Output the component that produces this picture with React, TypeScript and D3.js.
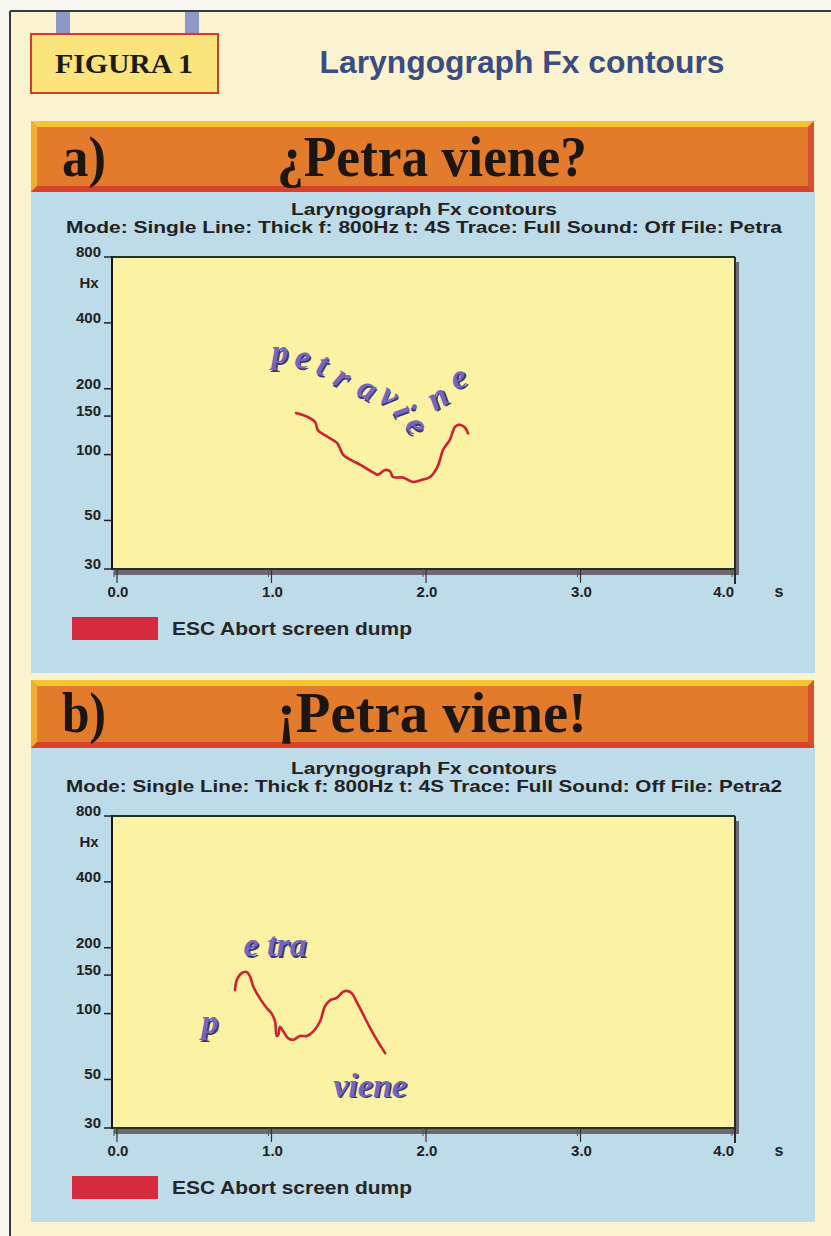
import React from 'react';
import * as d3 from 'd3';

// chart values
const yTicks = [800, 400, 200, 150, 100, 50, 30];
const xTicks = [0, 1, 2, 3, 4];
const xTickLabels = ['0.0', '1.0', '2.0', '3.0', '4.0'];

// a) ¿Petra viene?  time (s) / Fx (Hz)
const timeA = [1.159, 1.23, 1.282, 1.301, 1.359, 1.424, 1.463, 1.508, 1.573, 1.657, 1.689, 1.735, 1.767, 1.786, 1.851, 1.916, 1.981, 2.026, 2.071, 2.091, 2.11, 2.155, 2.188, 2.22, 2.252, 2.272];
const hzA = [155, 149, 141, 129, 121, 113, 100, 95, 90, 83, 81, 85, 84, 79, 78.5, 75, 77, 79, 87, 95, 105, 117, 134, 137, 133, 125];

// b) ¡Petra viene!
const timeB = [0.764, 0.775, 0.807, 0.839, 0.861, 0.882, 0.926, 0.969, 1.001, 1.023, 1.034, 1.044, 1.055, 1.076, 1.109, 1.141, 1.184, 1.228, 1.271, 1.314, 1.346, 1.379, 1.422, 1.465, 1.487, 1.519, 1.551, 1.594, 1.638, 1.681, 1.735];
const hzB = [128, 142, 153, 155, 148, 133, 117, 106, 100, 92, 79, 80, 87, 83, 77, 76, 79, 79, 83, 92, 108, 115, 118, 126, 127, 124, 113, 99, 86, 76, 66];

// syllable letters written over the traces
const notesA = ['p', 'e', 't', 'r', 'a', 'v', 'i', 'e', 'n', 'e'];
const notesATime = [1.055, 1.204, 1.333, 1.463, 1.625, 1.767, 1.864, 1.948, 2.071, 2.207];
const notesAHz = [295, 280, 260, 227, 202, 188, 160, 137, 184, 227];
const notesATilt = [0, 10, 20, 30, 28, 35, 60, 55, -30, -20];

const notesB = ['e tra', 'p', 'viene'];
const notesBTime = [1.023, 0.602, 1.638];
const notesBHz = [206, 92, 47];
const notesBTilt = [0, 0, 0];

const W = 831;
const H = 1236;
const plotLeft = 112;
const plotRight = 735;
const plotH = 312;

const sans = 'Liberation Sans, Arial, sans-serif';
const serif = 'Liberation Serif, Times New Roman, serif';

function Band({top, bottom, tag, title}) {
  const l = 31, r = 814, b = 6;
  return (
    <g>
      <rect x={l} y={top} width={r - l} height={bottom - top} fill="#e27b2c" />
      <polygon points={`${l},${top} ${r},${top} ${r - b},${top + b} ${l + b},${top + b}`} fill="#f6c331" />
      <polygon points={`${l},${top} ${l + b},${top + b} ${l + b},${bottom - b} ${l},${bottom}`} fill="#f0ad33" />
      <polygon points={`${r},${top} ${r},${bottom} ${r - b},${bottom - b} ${r - b},${top + b}`} fill="#d8502b" />
      <polygon points={`${l},${bottom} ${r},${bottom} ${r - b},${bottom - b} ${l + b},${bottom - b}`} fill="#d6432a" />
      <text x={62} y={bottom - 16} fontFamily={serif} fontWeight="bold" fontSize={56} fill="#1d1510" textLength={44} lengthAdjust="spacingAndGlyphs">{tag}</text>
      <text x={432} y={bottom - 16} textAnchor="middle" fontFamily={serif} fontWeight="bold" fontSize={56} fill="#1d1510" textLength={310} lengthAdjust="spacingAndGlyphs">{title}</text>
    </g>
  );
}

function Panel({bandTop, bandBottom, blueBottom, plotTop, tag, title, file, time, hz, notes, notesTime, notesHz, notesTilt, noteSize}) {
  const plotBottom = plotTop + plotH;
  const x = d3.scaleLinear().domain([0, 4]).range([117, plotRight]);
  const y = d3.scaleLog().domain([30, 800]).range([plotBottom, plotTop]);
  const pts = time.map((t, i) => [t, hz[i]]);
  const path = d3.line().x(d => x(d[0])).y(d => y(d[1])).curve(d3.curveCatmullRom.alpha(0.5))(pts);

  return (
    <g>
      <Band top={bandTop} bottom={bandBottom} tag={tag} title={title} />
      <rect x={31} y={bandBottom} width={784} height={blueBottom - bandBottom} fill="#bddbe8" />

      <text x={424} y={plotTop - 42} textAnchor="middle" fontFamily={sans} fontWeight="bold" fontSize={16} fill="#222" textLength={266} lengthAdjust="spacingAndGlyphs">Laryngograph Fx contours</text>
      <text x={424} y={plotTop - 24} textAnchor="middle" fontFamily={sans} fontWeight="bold" fontSize={17} fill="#222" textLength={716} lengthAdjust="spacingAndGlyphs">{`Mode: Single Line: Thick f: 800Hz t: 4S Trace: Full Sound: Off File: ${file}`}</text>

      {/* plot area */}
      <rect x={plotRight} y={plotTop + 5} width={4} height={plotBottom - plotTop} fill="#6d6872" />
      <rect x={plotLeft + 2} y={plotBottom} width={plotRight - plotLeft + 2} height={6} fill="#6d6872" />
      <rect x={plotLeft} y={plotTop} width={plotRight - plotLeft} height={plotH} fill="#fcf2a3" />
      <line x1={plotLeft} x2={plotRight} y1={plotTop} y2={plotTop} stroke="#1f3225" strokeWidth={2} />
      <line x1={plotLeft} x2={plotRight} y1={plotBottom} y2={plotBottom} stroke="#1f3225" strokeWidth={2} />
      <line x1={plotLeft} x2={plotLeft} y1={plotTop - 1} y2={plotBottom + 1} stroke="#151515" strokeWidth={2} />
      <line x1={plotRight} x2={plotRight} y1={plotTop} y2={plotBottom + 15} stroke="#2a2a2a" strokeWidth={2} />

      {yTicks.map(v => (
        <g key={v}>
          <line x1={104} x2={plotLeft} y1={y(v)} y2={y(v)} stroke="#222" strokeWidth={1.5} />
          <text x={101} y={y(v)} textAnchor="end" fontFamily={sans} fontWeight="bold" fontSize={15} fill="#222">{v}</text>
        </g>
      ))}
      <text x={89} y={y(600) + 4} textAnchor="middle" fontFamily={sans} fontWeight="bold" fontSize={15} fill="#222">Hx</text>

      {xTicks.map((v, i) => (
        <g key={v}>
          {i < xTicks.length - 1 && <line x1={x(v)} x2={x(v)} y1={plotBottom} y2={plotBottom + 14} stroke="#333" strokeWidth={1.2} />}
          <line x1={x(v) - 3} x2={x(v) - 3} y1={plotBottom} y2={plotBottom + 8} stroke="#555" strokeWidth={1} />
          <text x={i === xTicks.length - 1 ? x(v) - 1 : x(v) + 1} y={plotBottom + 28} textAnchor={i === xTicks.length - 1 ? 'end' : 'middle'} fontFamily={sans} fontWeight="bold" fontSize={15} fill="#222">{xTickLabels[i]}</text>
        </g>
      ))}
      <text x={779} y={plotBottom + 28} textAnchor="middle" fontFamily={sans} fontWeight="bold" fontSize={16} fill="#222">s</text>

      {/* annotations */}
      {notes.map((n, i) => {
        const nx = x(notesTime[i]), ny = y(notesHz[i]);
        return (
          <g key={i} transform={`translate(${nx},${ny}) rotate(${notesTilt[i]})`}>
            <text x={1.5} y={1.5} textAnchor="middle" dominantBaseline="central" fontFamily={serif} fontStyle="italic" fontWeight="bold" fontSize={noteSize} fill="#3c3474">{n}</text>
            <text x={0} y={0} textAnchor="middle" dominantBaseline="central" fontFamily={serif} fontStyle="italic" fontWeight="bold" fontSize={noteSize} fill="#7466bb">{n}</text>
          </g>
        );
      })}

      <path d={path} fill="none" stroke="#cf2131" strokeWidth={2.6} strokeLinejoin="round" strokeLinecap="round" />

      {/* legend */}
      <rect x={72} y={plotBottom + 48} width={86} height={23} fill="#d5293d" />
      <text x={172} y={plotBottom + 66} fontFamily={sans} fontWeight="bold" fontSize={18} fill="#262626" textLength={240} lengthAdjust="spacingAndGlyphs">ESC Abort screen dump</text>
    </g>
  );
}

export default function App() {
  return (
    <svg width={W} height={H} style={{position: 'absolute', left: 0, top: 0, display: 'block'}}>
      <rect x={0} y={0} width={W} height={H} fill="#f7f6f0" />
      <rect x={10} y={11} width={W - 10} height={H - 11} fill="#fbf3d0" />
      <line x1={10} x2={W} y1={11} y2={11} stroke="#2d403d" strokeWidth={2} />
      <line x1={10} x2={10} y1={11} y2={H} stroke="#2d403d" strokeWidth={2} />

      {/* hanging sign */}
      <rect x={56} y={12} width={14} height={22} fill="#8e98c6" />
      <rect x={185} y={12} width={14} height={22} fill="#8e98c6" />
      <rect x={31} y={34} width={187} height={59} fill="#fbe47b" stroke="#d43b26" strokeWidth={2} />
      <text x={124} y={73} textAnchor="middle" fontFamily={serif} fontWeight="bold" fontSize={28} fill="#1c1c14" textLength={138} lengthAdjust="spacingAndGlyphs">FIGURA  1</text>
      <text x={522} y={73} textAnchor="middle" fontFamily={sans} fontWeight="bold" fontSize={32} fill="#3b4c82" textLength={405} lengthAdjust="spacingAndGlyphs">Laryngograph Fx contours</text>

      <Panel bandTop={121} bandBottom={192} blueBottom={673} plotTop={257} tag="a)" title="¿Petra viene?" file="Petra"
        time={timeA} hz={hzA} notes={notesA} notesTime={notesATime} notesHz={notesAHz} notesTilt={notesATilt} noteSize={34} />
      <Panel bandTop={680} bandBottom={748} blueBottom={1222} plotTop={816} tag="b)" title="¡Petra viene!" file="Petra2"
        time={timeB} hz={hzB} notes={notesB} notesTime={notesBTime} notesHz={notesBHz} notesTilt={notesBTilt} noteSize={34} />
    </svg>
  );
}
